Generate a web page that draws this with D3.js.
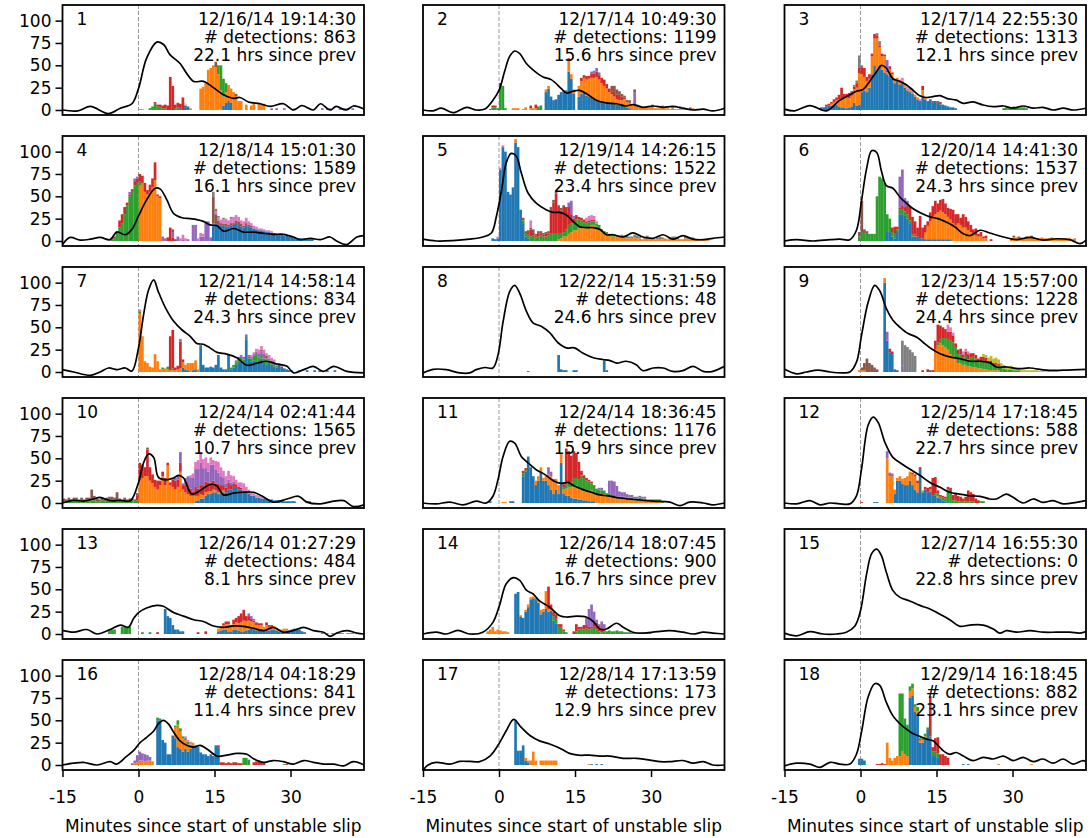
<!DOCTYPE html>
<html><head><meta charset="utf-8">
<script src="https://cdn.jsdelivr.net/npm/d3@7"></script>
<style>
body{margin:0;background:#fff}
svg{display:block}
text{font-family:"DejaVu Sans",sans-serif;fill:#000}
</style></head>
<body><svg id="c" width="1091" height="838"></svg>
<script>
// ---------- DATA ----------
const panelNums = [1,2,3,4,5,6,7,8,9,10,11,12,13,14,15,16,17,18];
const dates = ["12/16/14 19:14:30","12/17/14 10:49:30","12/17/14 22:55:30","12/18/14 15:01:30","12/19/14 14:26:15","12/20/14 14:41:30","12/21/14 14:58:14","12/22/14 15:31:59","12/23/14 15:57:00","12/24/14 02:41:44","12/24/14 18:36:45","12/25/14 17:18:45","12/26/14 01:27:29","12/26/14 18:07:45","12/27/14 16:55:30","12/28/14 04:18:29","12/28/14 17:13:59","12/29/14 16:18:45"];
const detections = [863,1199,1313,1589,1522,1537,834,48,1228,1565,1176,588,484,900,0,841,173,882];
const hrsSincePrev = ["22.1","15.6","12.1","16.1","23.4","24.3","24.3","24.6","24.4","10.7","15.9","22.7","8.1","16.7","22.8","11.4","12.9","23.1"];
const xTicks = [-15, 0, 15, 30];
const yTicks = [0, 25, 50, 75, 100];
const xLabel = "Minutes since start of unstable slip";
const familyColors = ["#1f77b4","#ff7f0e","#2ca02c","#d62728","#9467bd","#8c564b","#e377c2","#7f7f7f","#bcbd22"];
const binWidth = 0.5; // minutes

// bars: [family index, first bin start (min), [counts per 0.5-min bin]]
const bars1 = [[1,0,[1,1]],[2,2,[2,4,8,4,3,2,2,0,0,0,2,3]],[3,3,[1,2,3,3,4,5,37,27,4,5,5,14]],[0,8,[2,0,5,4]],[1,9,[1,0,2]],
 [1,12,[24,26,30,45,47,50,48,40,22,10,12,18,16,20,15,10,10,0,6,0,5,7,0,7,6,7]],[0,16.5,[5,8,10,8]],[2,15.5,[10,28,20,10]],
 [5,15,[6]],[5,19,[3]],[4,26,[2,0,2,0,0,2,0,0,0,2]],[4,36,[2,0,2,2,0,0,0,2,2,2,2,0,2]]];
const bars2 = [[2,-2,[1,3,3,2,27,27,2]],[3,-1.5,[2,2,0,3]],[1,2.5,[2,2,2,0,1,3,0,2,2,2]],[3,6,[3,0,4]],[2,7.5,[4,5]],
 [0,9,[20,24,15,11,12,17,20,22,22,43,35,18,0,15,18,20,16,15,14,12,12,10,10,9,9,8,8,7,6,6,5,4,3,2]],
 [1,9,[3,3,0,0,0,0,0,0,0,12,5,5,0,12,14,16,18,20,22,24,25,24,20,18,15,12,10,8,6,5,6,8,6,6,5,5,4,5,4,4,3,3,4,2,2,2,3,2,2,1,2,1,1,2,1,1,1,1,2]],
 [3,13.5,[3,0,0,0,0,4,3,4,3,5,5,6,5,6,7,5,4,3,4,5,6,4,2]],[4,18,[2,3,4,3]],[4,26.5,[15,2]],[4,30,[2,0,0,0,2,0,0,0,2,0,0,2,0,0,0,2]],
 [5,22,[6,8,6,4,3,2,2,3,0,3]]];
const bars3 = [[0,-8,[3,3,4,5,5,6,6,4,3,3,2,3,4,8,5,6,20,22,20,25,40,50,45,50,45,42,40,38,35,30,33,28,30,25,22,20,18,15,12,10,14,12,10,12,8,10,8,6,6,5,4,3,3,2]],
 [1,-6,[2,3,5,8,10,10,12,10,12,15,20,35,20,15,12,10,20,30,35,20,15,18,2,8,5,5,3,4,3,2,2,2,2,2,2,0,8,2]],
 [3,-7,[2,2,2,3,3,5,12,5,4,6,5,3,5,6,8,10,5,5,3,5,3,2,3,2,2,3,2]],[3,12,[5]],[7,-1.5,[2,3,14,2,0,0,0,0,0,3,5]],
 [4,5,[12]],[6,7.5,[2,3,3,2,3,2,0,0,2]],[5,14,[2,0,2,3]],[2,28,[2,3,2,3,4,3,2,3,3,2]]];
const bars4 = [[2,-5.5,[2,3,8,15,20,30,40,50,55,62,65,5]],[3,-5.5,[2,2,3,8,10,8,3,2,3,5,5]],[4,-2,[3,0,3,2]],
 [1,0,[62,65,55,52,55,60,68,50,48]],[3,0,[8,8,10,5,8,10,20,2,2]],
 [4,4.5,[5,3,0,0,6,0,5,0,2,0,2,0,18,18,0,5,5,22,22,4,2]],[3,5.5,[4,15,4]],[5,6.5,[3,2]],[6,8,[3,5,3,0,0,0,0,3,4,3]],
 [0,14.5,[18,20,18,17,17,16,16,17,18,20,18,16,15,17,16,15,14,13,12,12,11,10,10,9,9,8,8,7,6,6,5,5,4,3,3,3,3,2,2,2]],
 [5,14.5,[30,10,5,3,2,3,2,3,2,3,4,3,2,3,2,2]],[6,15,[3,3,4,5,6,5,5,7,6,5,4,5,6,4,3,3,3,2,2,2,2,2,2]],[7,14.5,[5,3,2,0,2,0,0,2]]];
const bars5 = [[0,-1.5,[3,2,3,80,105,100,55,52,60,110,105,35,20,5,3]],[1,3,[4]],[6,-0.5,[2,2,2]],
 [2,4.5,[3,3,4,5,6,4,5,6,5,5,6,8,8,8,6,6,5,8,10,10,8,12,10,8,6,6,5,4,4,3,4,3,3,2,2,2,2]],
 [5,4.5,[3,3,2,2,4,2,3,3,2,2,3,5,3,2,2,3,2]],
 [3,5.5,[3,8,3,2,3,2,2,3,2,25,35,45,30,25,28,25,20,10,5,5,3,3,3,2,2,2,2]],
 [1,11.5,[2,3,5,5,8,10,12,12,14,15,15,14,16,18,18,16,14,10,8,8,6,5,5,6,5,4,4,3,3,3,4,3,3,2,2,3,2,2,2,2,2,2,3,2,2,2,2,2,2,2,3,2,2,2,2,2,1,1,1,1]],
 [4,13.5,[5,15,3]],[6,6,[8]],[6,17,[4,5,5,4,3]],
 [7,24,[3,2,3,2,2,3,3,2,0,2,3,2,0,0,2,3,2,0,0,2,3,3,2,0,0,2,3,2,2]]];
const bars6 = [[2,-0.5,[5,10,8,8,8,8,8,50,72,70,65,20,15,5,5,3,5,5,5,5,3,2,2]],[5,-0.5,[5,35,5,3]],
 [0,5,[10,10,5,3,10,30,30,28,25,20,5,5,5,3,3,2,2,2,2,2,2,2,2,2,2,2]],[4,7.5,[35,40,10,5]],
 [3,6,[5,8,3,2,5,5,10,15,20,15,10,25,12,8,5,10,12,15,10,12,15,12,10,12,15,12,10,8,15,12,10,8,5,8,3,5,2,3,0,2]],
 [1,12.5,[8,15,20,25,28,30,32,30,28,25,22,20,18,20,18,15,15,12,10,8,6,5,5,3,3,0,0,0,0,0,0,0,0,0,3,4,4,3,4,3,3,4,4,3,3,3,4,3,3,3,4,3,3,3,3,3,3,3,2,3]],
 [5,30,[2,0,2,0,0,2,0,2]]];
const bars7 = [[1,0,[65,40,12,10,6,5,20,12,3,3,4,3,2,2,2,3,4,6,5,8,10,8,10,3]],[2,0,[3]],[6,0,[2]],[2,4.5,[2,0,3,0,2]],
 [3,6,[38,43,3,4,30,3]],[4,8,[3]],
 [0,8.5,[5,3,2,0,2,3,0,30,8,5,5,6,5,8,19,5,3,3,20,3,5,8,10,12,10,36,15,12,13,12,10,15,10,8,10,8,6,5,8,6,4,3,2,2]],
 [0,31.5,[2,0,0,2,0,0,2,0,2,0,0,2,0,0,2]],[2,18,[2,3,3,4,5,4,3,2,3,5,8,6,4,5,5,3,2,2,2]],
 [4,19,[2,3,2,3,3,2,2,2,3,5,4,3,2,2,3,2]],[6,22,[2,2,3,4,4,5,3,4,3,4,3,2,2]],[5,24,[2,2,3]]];
const bars8 = [[0,5.5,[1]],[0,11.5,[19,3,2,2]],[0,14.5,[2,2]],[0,20.5,[13,2]]];
const bars9 = [[1,-0.5,[2,2,2,0,0,0,0,0,0,0,2]],[5,0,[3,8,15,10,8,5,3]],[0,4.5,[100,35,22,20,3,2]],[1,4.5,[3]],[4,5,[10]],
 [3,5.5,[4,3]],[7,8,[28,30,28,25,22,18]],[4,8,[7]],[3,12,[2,0,3,0,2]],[0,13.5,[2]],
 [1,14.5,[25,30,32,30,28,25,20,18,15,10,10,8,8,6,6,5,5,4,4,3,3,2,2,2,2,2]],
 [2,15,[3,5,8,10,12,15,15,12,10,10,8,10,8,10,12,10,8,8,10,8,7,8,6,6,5,5,4,3,3,3,2,2,2]],
 [3,14.5,[10,20,15,12,10,8,10,8,5,5,6,3,5,6,5,4,4,3,5,4,5,3,3,2,2,2]],[6,17,[8,5,3]],[6,20,[4,3,3]],
 [8,24,[3,3,4,5,5,6,5,5,4,3,3,4,3,2,2,2,2,2,2,2,2,2,1,1,1,1,2,1,1,1]]];
const bars10 = [[5,-15,[3,2,3,2,4,3,2,3,2,3,4,12,5,3,2,3,2,3,4,5,3,10,2,2,3,2,3,2,2,3]],
 [2,-15,[2,2,3,2,2,3,2,3,2,3,2,3,3,2,2,3,2,3,3,2,3,2,3,2,3,2,2,3,2,3]],
 [1,0,[25,28,30,30,25,22,18,15,20,30,20,42,20,18,15,18,35,15,12,10,8,8,6,5,5,4,4,3,3,3,2,2,2,2]],
 [3,-0.5,[5,20,15,10,30,15,10,8,10,5,5,8,3,3,8,10,8,10,5,8,10,8,5,10,8,10,10,12,10,10,10,8,10,8,6,5,8,5,4,3,3,2,2]],
 [5,1.5,[2]],[4,6.5,[2,3,5,12,2,8,10,12,15,20,22,25,20,15,12,20,18,15,12,10,8,5,3,3,2]],
 [6,10,[3,5,8,10,12,10,12,10,8,5,10,12,10,8,8,10,8,6,5,5,6,8,6,5,4,3,3,2,2]],
 [0,11,[2,3,5,5,8,10,10,12,12,10,10,12,12,15,15,18,18,15,15,12,12,10,8,8,6,6,5,5,5,4,4,3,3,3,3,2,2,2,2,2,0,0,0,0,2,2]]];
const bars11 = [[0,-2,[2]],[0,2,[2,2]],[1,0.5,[1,1]],
 [0,4.5,[30,35,52,40,30,20,25,35,25,25,20,15,10,15,10,45,10,8,8,6,5,5,4,4,3,3,2,2,2]],
 [1,7,[5,5,5,3,5,12,15,15,12,10,10,5,8,10,12,15,15,12,12,10,10,12,12,10,10,10,10,10,8,8,6,6,5,5,5,4,4,4,3,3,3,3,3,3,2,2,2,2,2,2]],
 [3,4.5,[3,2]],[2,4.5,[3,2]],[3,12.5,[3,40,35,30,30,28,20,5,3,3,2,2]],
 [2,12.5,[3,5,5,5,8,8,10,15,15,12,10,8,8,6,5,4,4,3,3,3,3,2,2,2,3,2,2,3,2,2,3,2,2,2,2,2,2,2,2,2]],
 [4,9.5,[8,5,2]],[4,19.5,[2,3,0,0,14,16,15,12,6,5,5,4,3,3,2,2,2,2,2]]];
const bars12 = [[3,0,[1]],[0,2.5,[1,1]],[1,5,[50,30,30,5,3,5,5,8,10,10,12,15,10,0,2,0,0,2,0,0,2]],[4,5,[8,4,3]],
 [0,6.5,[10,25,25,22,20,20,25,20,15,12,38,12,15,12,13,8,8,6,5,3,2]],
 [3,10,[2,2,3,2,0,3,5,3,20,18,3,2,2,2,3,5,6,8,6,5,3,5,12,10,8,5,3]],
 [2,14.5,[3,3,2,3,3,15,12,3,3,2,2,2,2,2,2,2,0,0,2,2]]];
const bars13 = [[2,-6,[5,5,5,0,0,8,8,8,8,0,0,0,0,2,0,0,2]],[3,3.5,[2]],[0,5,[28,20,18,10,5,5,3,3]],[3,11.5,[2,0,0,3]],
 [0,15.5,[3,4,5,5,3,3,5,5,4,3,3,4,5,6,5,4,5,6,5,5,4,5,5,4,3,3,3,4,4,5,6,6,5,3,2]],
 [1,15.5,[3,5,5,6,8,5,6,8,8,10,12,10,10,8,8,6,5,4,3,5,4,3,4,3,2,2,3,2]],
 [3,16.5,[2,3,3,2,5,5,8,10,12,6,5,3,2,3,2,2,0,3,2,2]],[4,21.5,[3,3,2]],[4,36,[1,0,1,0,1,0,1,1,1,0,1,1,1]]];
const bars14 = [[1,-2.5,[3,5,8,3,5,4,3,3,2]],[0,3,[45,47,19,18,25,30,38,40,39,35,22,25,28,25,26,15,12]],
 [1,4,[2,0,2,3,3,2,2,3,5,3,20,3,2]],[3,9.5,[25,5,5,5,3]],[2,10.5,[5,5,8,8,3,2]],
 [3,12,[3,2,0,0,0,3,8,3,2,5,4,3,2,5,8,6,4,3]],
 [2,15,[3,5,6,5,6,5,6,8,5,3,2,3,3,4,3,3,4,3,3,2,2,2,1,1,1,1,1,1,1,1]],[4,17,[8,20,25,12,3,2,8,5]]];
const bars15 = [];
const bars16 = [[4,-9.5,[1]],[1,-1,[2,3,5,5,4,5,5,4]],[4,-1.5,[2,3,8,10,8,8,6,4]],
 [0,3.5,[50,50,28,25,12,12,33,30,20,18,15,18,15,18,22,22,20,14,12,12,10,12,10,22,20]],
 [2,3.5,[3,2]],[2,7,[2,5,3,2,2,3]],[2,20.5,[8,8,6]],[1,7,[12,25,20,15,10,8,5,3]],
 [3,15.5,[2,3,3,2,3,2,3,3,2,2]],[3,22.5,[3,4,5,4,3]],[6,9,[2,2,3]],[2,28.5,[1]],[3,29,[1]]];
const bars17 = [[0,3,[50,16,16,22,5,3]],[1,5,[3,2,5,15,5,0,5,5,5,5,5,5,5]],[0,18,[1,0,1,0,1]],[1,17.5,[1]]];
const bars18 = [[0,-0.5,[7,7,5]],[3,3,[1,1,2,1]],[1,5,[25,8,5,8,10,10,15,12,10,8,8,5,5,3,3,2]],
 [2,7.5,[70,65,40,35,5,5,3,5,2,2,3,2,2,5,5,5]],[0,9.5,[75,78,60,55,25,25,30,40,30,10,10,8]],
 [3,13.5,[45,5,15,18,12,12,10,8]],[0,20,[1,0,1]],[1,27,[1]],[1,33.5,[1]]];

// reference curves: [minute, value]
const curve1 = [[-15,0],[-12,-1],[-9.5,4],[-6,-4],[-3.6,2],[-1.3,7],[0,24],[1.6,58],[3.6,76],[5,73],[6.2,62],[8.2,52],[9.5,41],[10.9,32],[12.8,32],[14.8,25],[16.8,17],[18.8,13],[20,14],[21.7,9],[24,7],[26,4],[28.6,7],[30.6,0],[32.2,5],[34.5,0],[35.9,7],[37.8,0],[39,4],[41,0],[42.4,4.5],[44.5,1]];
const curve2 = [[-15,0],[-13,-1],[-11.4,2],[-9.1,-3],[-6.4,3],[-4.5,0],[-2.8,1],[-1.2,11],[0,22],[1.1,43],[2.1,60],[3.1,66],[4.1,63],[5.4,52],[6.7,45],[8.7,37],[10.3,34],[12.3,24],[13.3,19],[14.6,21],[15.9,22],[17.6,17],[19.2,11],[21.2,8],[23.2,7],[25.1,4.5],[26.4,6],[28.4,3],[30.4,4.5],[32.4,3],[34.3,4],[36.3,2],[38.3,0],[40.3,1],[42.2,-1],[44.5,2]];
const curve3 = [[-15,1],[-13,-1],[-10,5],[-6.7,-1],[-4.1,11],[-2.1,17],[-0.8,21],[0.5,23],[1.8,32],[3.2,43],[4.1,50],[5.1,47],[6.4,35],[7.8,32],[9.1,28],[10.4,22],[11.7,16],[13,14],[14.3,15],[15.7,16],[17,13],[18.9,11],[20.3,7.5],[22.2,9],[24.2,5.6],[26.2,3.7],[28.2,4.5],[30.1,2],[32.1,4.5],[34.1,2],[36,3],[38,0],[40,2],[42,0],[44.5,2]];
const curve4 = [[-15,-4],[-13.5,4],[-11.5,1],[-9.5,2],[-7.6,4],[-5.6,1.5],[-4.3,10],[-2.6,7],[-1.3,13],[0,28],[1.6,46],[3.3,59],[4.3,58],[5.6,46],[6.9,31],[8.6,26],[10.2,25],[11.5,24],[12.8,22],[14.1,18],[15.5,17],[16.8,11],[18.8,14],[20.7,10],[22.7,10],[24.7,8.5],[26.6,7.5],[28.6,7.5],[30.6,4.5],[31.9,1.5],[33.9,3],[35.9,1.5],[37.8,4.5],[39.1,0],[41.1,-4],[43.1,4.5],[44.5,6]];
const curve5 = [[-15,2],[-12.4,0],[-9.1,0.4],[-5.8,2],[-3.2,4.5],[-1.5,9],[-0.5,28],[0.5,57],[1.4,87],[2.4,98],[3.4,95],[4.4,76],[5.7,54],[7.4,42],[9.3,35],[10.7,32],[12,32],[13.3,29],[14.6,22],[15.9,16],[17.2,15],[18.6,15],[19.9,13],[21.2,7],[22.5,7],[24.5,4.5],[26.4,9],[28.4,4.5],[30.4,3],[32.4,7],[34.3,2],[36.3,6],[38.3,2],[40.3,1.5],[42.2,3],[44.5,4.5]];
const curve6 = [[-15,0],[-12.6,1.5],[-9.3,0],[-6,1.5],[-4.1,2],[-2.1,1.5],[-0.8,12],[0.2,45],[1.2,81],[2.2,101],[3.2,99],[4.1,79],[5.1,62],[6.4,59],[7.8,49],[9.1,42],[10.4,36],[12,31],[13.7,27],[15.3,25],[17,21],[18.6,16],[20.3,8],[21.6,6],[23.6,12],[25.5,9],[28.2,4.5],[30.8,1.5],[33.4,4],[36.1,1],[38.7,2.5],[41.3,1.5],[43.3,-3],[44.5,1]];
const curve7 = [[-15,2.6],[-12.8,0],[-9.5,-3.7],[-7.6,0],[-5.9,4.5],[-4.3,2.6],[-2.6,4.5],[-1.3,1],[0,27],[1,64],[2,92],[3,103],[3.9,90],[5.3,72],[6.9,57],[8.6,47],[10.2,40],[11.5,32],[12.8,31],[14.1,27],[15.5,22],[17.4,20],[19.4,16],[21.4,7.5],[23.4,10],[25.3,12],[27.3,9],[29.3,6.3],[30.6,-1],[32.6,2.6],[34.5,6.3],[36.5,0.7],[38.5,6.3],[41.1,0.7],[44.5,-1]];
const curve8 = [[-15,-1],[-13,3],[-10.4,2.6],[-7.8,-1],[-5.8,-1],[-4.5,2.6],[-2.8,5],[-1.2,4.5],[-0.2,19],[0.8,56],[2.1,90],[3.1,97],[4.1,88],[5.4,68],[6.7,55],[8.4,51],[10,44],[11.6,33],[13.3,27],[14.9,27],[16.6,21],[18.6,16],[20.5,14],[21.8,13],[23.2,10],[25.1,12],[27.1,8],[28.4,1.5],[30.4,4.5],[32.4,4.5],[34.3,0.7],[36.3,1.5],[38.3,6.3],[40.3,0.7],[42.2,0.7],[44.5,6.3]];
const curve9 = [[-15,3],[-12.6,-2],[-10.7,0],[-8.4,2],[-6,0],[-3.4,-1],[-2.1,0],[-0.8,11],[0.2,41],[1.5,78],[2.8,97],[3.8,91],[5.1,71],[6.4,58],[7.8,50],[9.4,43],[11.1,39],[12.4,33],[14,26],[15.7,20.5],[17.6,17],[19.6,15],[21.6,12],[23.6,12],[25.5,10.5],[26.8,5.6],[28.8,5.6],[31.4,3.7],[33.4,4.5],[36.7,2],[40,2],[44.5,3]];
const curve10 = [[-15,0],[-12.8,3],[-10.9,2],[-8.9,4.5],[-7.6,6.3],[-5.6,2.6],[-3.6,3],[-1.6,2.6],[0,23],[1,45],[2,55],[3,51],[3.9,29],[5.3,26],[6.9,28],[7.9,31],[8.9,28],[10.5,10],[12.2,14],[13.5,19],[14.5,21],[15.5,19],[16.8,9],[18.8,11],[20.7,12],[22.7,12],[24.3,8],[26.6,1],[29.3,4.5],[31.6,7.5],[33.2,1],[35.9,-1],[38.5,2],[40.5,2.6],[42.4,-4],[44.5,-2]];
const curve11 = [[-15,0],[-12.4,-1],[-9.7,1],[-7.1,-2],[-4.5,2],[-2.5,0],[-1.2,7.5],[-0.2,26],[0.8,52],[2.1,69],[3.1,67],[4.4,52],[5.7,45],[7.4,37],[9,32],[10.7,25],[12.3,22],[13.6,23],[14.9,19],[16.6,15],[18.2,12],[19.9,9],[21.5,8],[23.8,5.6],[27.1,3.7],[30.4,2],[33.7,1],[35.7,-3],[37.6,1],[40.3,0],[42.2,-2],[44.5,0]];
const curve12 = [[-15,0],[-12.6,-1],[-10,2.6],[-8,-2],[-6,0],[-4.1,-1],[-2.1,-1],[-0.8,8],[0.2,38],[1.5,87],[2.5,96],[3.5,90],[4.8,68],[6.4,51],[8.1,44],[9.7,38],[11.7,31],[13.7,23],[15.7,17.5],[17.6,12],[19.6,10],[21.6,8],[23.6,7.5],[25.5,4.5],[26.8,4.5],[28.8,10],[30.1,6.3],[32.1,0],[34.1,4.5],[36,0.7],[38,2.6],[40,-1],[42.6,0.7],[44.5,2.6]];
const curve13 = [[-15,4],[-12.8,2],[-10.2,5],[-8.2,0],[-5.6,5],[-3.6,10],[-2,7.5],[-1,17],[0,24],[1.6,29],[3.6,32],[4.9,31],[6.9,24],[8.9,20],[10.9,16],[12.8,14],[14.8,9],[16.8,7.5],[18.8,9],[20.7,8.5],[22.7,6.3],[24.7,3.7],[26.6,7.5],[28.6,2],[30.6,4],[32.6,7.5],[34.5,3.7],[36.5,2],[37.8,-2.6],[39.1,1],[41.1,3.7],[43.1,1],[44.5,0]];
const curve14 = [[-15,0],[-12.4,2],[-10.4,0],[-8.1,4],[-5.8,0],[-3.2,2],[-1.2,13],[0.1,32],[1.4,56],[2.8,63],[4.1,60],[5.4,49],[6.7,45],[8,37],[10,30],[12,20.5],[13.3,19],[15.3,20],[17.2,19],[18.6,14],[19.9,5.6],[21.2,5.6],[23.2,12],[24.5,7.5],[26.4,2],[28.4,1],[31.1,2.6],[33.7,3.7],[36.3,2],[38.3,0],[40.3,2],[42.2,1],[44.5,0]];
const curve15 = [[-15,1],[-12.6,-2],[-10,2.6],[-7.4,0],[-4.7,0],[-2.8,2],[-1.1,9],[0,26],[1.2,67],[2.2,90],[3.2,95],[4.1,88],[5.1,69],[6.4,48.5],[7.8,41],[9.7,37],[11.7,32],[13.7,28],[15.7,22],[17.6,16],[19.6,8.6],[21.6,10],[24.2,10],[26.2,5.6],[27.5,1],[28.8,3.7],[30.8,2],[33.4,3.7],[36.1,2],[38.7,2],[41.3,2],[43.3,1],[44.5,2.6]];
const curve16 = [[-15,0],[-12.8,2],[-10.9,3],[-8.2,0],[-5.6,3.7],[-4.3,1],[-2.3,10],[-1,16],[0.3,25],[1.6,31],[3,38],[3.9,46],[4.9,50],[5.9,46],[6.9,37],[8.2,27],[9.5,22],[10.9,20],[12.2,22],[13.5,18],[15.5,10],[17.4,11],[19.4,13],[21.4,12],[22.7,7],[24.7,3],[26.6,5],[28.6,3.7],[30.6,1],[32.6,5],[34.5,3],[36.5,1],[38.5,1],[40.5,-1],[42.4,3.7],[44.5,0]];
const curve17 = [[-15,-6],[-14,0],[-12.4,3],[-9.7,1],[-7.8,4],[-5.8,4],[-3.8,3.7],[-1.8,10],[-0.2,22],[1.4,38],[2.9,51],[4.4,42],[6.1,33],[8,27],[10,23.5],[12.3,18],[13.9,13],[15.6,11],[17.9,11],[19.9,10],[21.8,10],[24.5,7.5],[27.1,7.5],[29.1,6],[31.7,3.7],[33.7,3.7],[36.3,5],[38.3,2],[40.3,3.7],[42.2,0],[44.5,0]];
const curve18 = [[-15,-1],[-12.6,2],[-10,1],[-8,-2.6],[-6,3],[-4.1,1],[-2.1,1],[-0.8,12],[0.2,37],[1.5,76],[2.8,91],[3.8,89],[5.1,70],[6.4,55],[7.8,46],[9.1,40],[10.4,35],[11.7,32],[13,29],[14.3,27],[15.3,22],[16.3,16],[17.6,12],[18.9,14],[20.3,10],[22.2,5],[24.2,8.6],[26.2,6.7],[28.2,10],[30.1,5],[32.1,8.6],[34.1,3.7],[36,6.7],[38,2],[40,6.7],[42,1],[43.9,5],[44.5,3.7]];

const allBars = [bars1,bars2,bars3,bars4,bars5,bars6,bars7,bars8,bars9,bars10,bars11,bars12,bars13,bars14,bars15,bars16,bars17,bars18];
const allCurves = [curve1,curve2,curve3,curve4,curve5,curve6,curve7,curve8,curve9,curve10,curve11,curve12,curve13,curve14,curve15,curve16,curve17,curve18];

// ---------- LAYOUT ----------
const W = 301.5, H = 110;
const colLeft = [62.5, 423, 784.5];
const rowTop = r => 5 + r * 131;
const FS = 17;

const x = d3.scaleLinear().domain([-15, 44.5]).range([0, W]);
const y = d3.scaleLinear().domain([-5.6, 117.5]).range([H, 0]);
const keys = d3.range(familyColors.length);
const stack = d3.stack().keys(keys);
const line = d3.line().x(d => x(d[0])).y(d => y(d[1])).curve(d3.curveCatmullRom.alpha(0.5));

function toTable(runs) {
  const m = new Map();
  runs.forEach(([c, s, hs]) => hs.forEach((h, i) => {
    const b = Math.round((s + i * binWidth) * 100) / 100;
    if (!m.has(b)) { const r = {bin: b}; keys.forEach(k => r[k] = 0); m.set(b, r); }
    m.get(b)[c] += h;
  }));
  return [...m.values()].sort((a, b) => a.bin - b.bin);
}

const svg = d3.select("#c");
const defs = svg.append("defs");
defs.append("clipPath").attr("id", "clip").append("rect").attr("width", W).attr("height", H);

panelNums.forEach((num, i) => {
  const col = i % 3, row = Math.floor(i / 3);
  const g = svg.append("g").attr("transform", `translate(${colLeft[col]},${rowTop(row)})`);
  const inner = g.append("g").attr("clip-path", "url(#clip)");

  inner.append("line").attr("x1", x(0)).attr("x2", x(0)).attr("y1", 0).attr("y2", H)
    .attr("stroke", "#9a9a9a").attr("stroke-width", 1).attr("stroke-dasharray", "4,2");

  const series = stack(toTable(allBars[i]));
  const bw = x(binWidth) - x(0);
  series.forEach(s => {
    inner.append("g").selectAll("rect").data(s.filter(d => d[1] > d[0])).join("rect")
      .attr("x", d => x(d.data.bin)).attr("width", bw + 0.15)
      .attr("y", d => y(d[1])).attr("height", d => y(d[0]) - y(d[1]))
      .attr("fill", familyColors[s.key]);
  });

  inner.append("path").datum(allCurves[i]).attr("d", line)
    .attr("fill", "none").attr("stroke", "#000").attr("stroke-width", 1.7);

  g.append("rect").attr("width", W).attr("height", H).attr("fill", "none")
    .attr("stroke", "#000").attr("stroke-width", 1.8);

  g.append("text").attr("x", 14).attr("y", 20).attr("font-size", FS).text(num);
  const lines = [dates[i], "# detections: " + detections[i], hrsSincePrev[i] + " hrs since prev"];
  lines.forEach((t, k) => g.append("text").attr("x", W - 8).attr("y", 20 + 18 * k)
    .attr("text-anchor", "end").attr("font-size", FS).text(t));

  if (col === 0) {
    const ax = g.append("g").call(d3.axisLeft(y).tickValues(yTicks).tickSize(7).tickPadding(4));
    ax.select(".domain").remove();
    ax.selectAll("line").attr("stroke-width", 1.5);
    ax.selectAll("text").attr("font-size", FS).attr("font-family", "DejaVu Sans");
  }
  if (row === 5) {
    const ax = g.append("g").attr("transform", `translate(0,${H})`)
      .call(d3.axisBottom(x).tickValues(xTicks).tickSize(7).tickFormat(d => (d < 0 ? "-" + Math.abs(d) : String(d))));
    ax.select(".domain").remove();
    ax.selectAll("line").attr("stroke-width", 1.5);
    ax.selectAll("text").attr("font-size", FS).attr("font-family", "DejaVu Sans").attr("y", 33).attr("dy", 0);
    g.append("text").attr("x", W / 2).attr("y", 172).attr("text-anchor", "middle").attr("font-size", FS).text(xLabel);
  }
});
</script></body></html>
